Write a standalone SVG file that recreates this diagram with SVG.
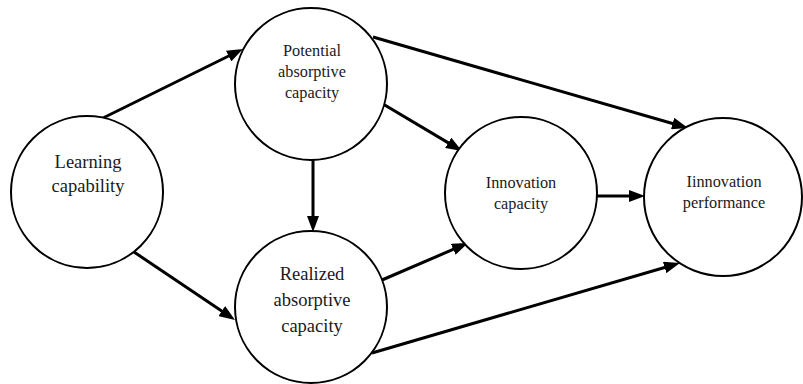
<svg xmlns="http://www.w3.org/2000/svg" width="803" height="384" viewBox="0 0 803 384">
<style>
.node circle{fill:#fff;stroke:#000;stroke-width:2}
text{font-family:"Liberation Serif","Times New Roman",serif;fill:#1a1a1a;text-anchor:middle}
.s{font-size:16.3px}
.l{font-size:18.5px}
#edges line{stroke:#000;stroke-width:3;marker-end:url(#ah)}
</style>
<defs>
<marker id="ah" markerUnits="userSpaceOnUse" markerWidth="16" markerHeight="12" refX="8" refY="6" orient="auto">
<path d="M0,0 L16,6 L0,12 z" fill="#000"/>
</marker>
</defs>
<rect width="803" height="384" fill="#fff"/>
<g id="edges">
<line x1="103" y1="118" x2="235.8" y2="52.5"/>
<line x1="134" y1="252" x2="228.4" y2="315.5"/>
<line x1="313" y1="159" x2="313" y2="224"/>
<line x1="383" y1="104" x2="455.1" y2="146.9"/>
<line x1="373" y1="37" x2="680.3" y2="125.8"/>
<line x1="382" y1="280" x2="460.6" y2="246.2"/>
<line x1="372" y1="353" x2="672.3" y2="265.2"/>
<line x1="597" y1="196" x2="637" y2="196"/>
</g>
<g id="learning" class="node">
<circle cx="87" cy="192" r="76"/>
<text class="l" x="88" y="168">Learning</text>
<text class="l" x="88" y="192">capability</text>
</g>
<g id="potential" class="node">
<circle cx="311" cy="84" r="76"/>
<text class="s" x="312" y="56">Potential</text>
<text class="s" x="312" y="77">absorptive</text>
<text class="s" x="312" y="98">capacity</text>
</g>
<g id="realized" class="node">
<circle cx="311" cy="307" r="76"/>
<text class="l" x="312" y="280">Realized</text>
<text class="l" x="312" y="306">absorptive</text>
<text class="l" x="312" y="332">capacity</text>
</g>
<g id="innovation-capacity" class="node">
<circle cx="521" cy="193" r="76"/>
<text class="s" x="521" y="188">Innovation</text>
<text class="s" x="521" y="209">capacity</text>
</g>
<g id="innovation-performance" class="node">
<circle cx="723" cy="197" r="79"/>
<text class="s" x="724" y="187">Iinnovation</text>
<text class="s" x="724" y="208">performance</text>
</g>
</svg>
